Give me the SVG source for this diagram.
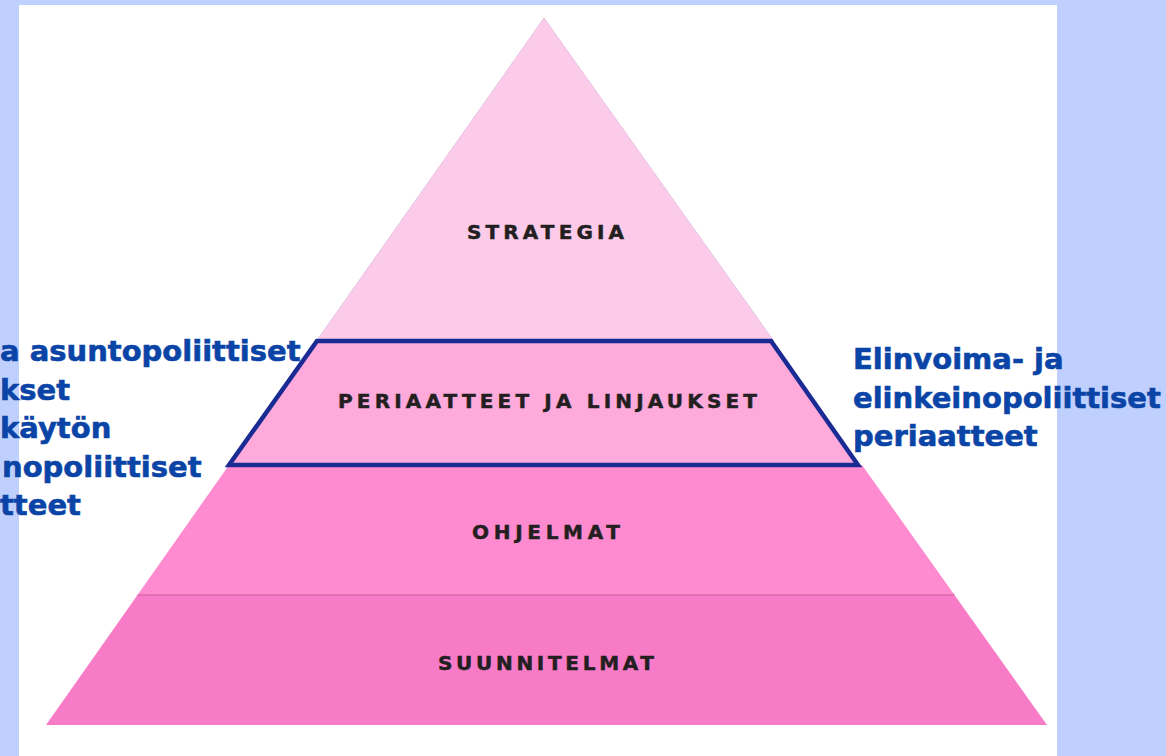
<svg xmlns="http://www.w3.org/2000/svg" width="1166" height="756" viewBox="0 0 1166 756">
<style>
.lvl{font-family:"DejaVu Sans",sans-serif;font-weight:bold;font-size:20px;fill:#231f20;stroke:#231f20;stroke-width:0.5;text-anchor:middle}
.side{font-family:"DejaVu Sans",sans-serif;font-weight:bold;font-size:29px;fill:#0a44a6;stroke:#0a44a6;stroke-width:0.6}
</style>
<rect x="0" y="0" width="1166" height="756" fill="#bfd0fe"/>
<rect x="19" y="5" width="1038" height="751" fill="#ffffff"/>
<g id="strategia">
<polygon points="544,18 316.5,341 773.8,341" fill="#fccbea" stroke="#e6c4e4" stroke-width="1"/>
<text class="lvl" x="545.5" y="239" textLength="157" lengthAdjust="spacing">STRATEGIA</text>
</g>
<g id="ohjelmat">
<polygon points="229,465 862,465 954.5,595 137.5,595" fill="#fe8bd0"/>
<text class="lvl" x="546" y="539" textLength="148" lengthAdjust="spacing">OHJELMAT</text>
</g>
<g id="suunnitelmat">
<polygon points="137.5,595 954.5,595 1047,725 46,725" fill="#f77bc6"/>
<line x1="137.5" y1="595" x2="954.5" y2="595" stroke="#d96aac" stroke-width="1.5"/>
<text class="lvl" x="546" y="670" textLength="216" lengthAdjust="spacing">SUUNNITELMAT</text>
</g>
<g id="periaatteet">
<polygon points="317,341 771,341 858,465 229,465" fill="#feaadb" stroke="#1a2b94" stroke-width="4.5" stroke-linejoin="miter"/>
<text class="lvl" x="547.5" y="408" textLength="419" lengthAdjust="spacing">PERIAATTEET JA LINJAUKSET</text>
</g>
<g id="vasen-teksti">
<text class="side" x="0" y="361">a asuntopoliittiset</text>
<text class="side" x="0" y="399.5">kset</text>
<text class="side" x="0" y="438">käytön</text>
<text class="side" x="2" y="476.5">nopoliittiset</text>
<text class="side" x="0" y="515">tteet</text>
</g>
<g id="oikea-teksti">
<text class="side" x="853" y="369">Elinvoima- ja</text>
<text class="side" x="853" y="407.5">elinkeinopoliittiset</text>
<text class="side" x="853" y="446">periaatteet</text>
</g>
</svg>
